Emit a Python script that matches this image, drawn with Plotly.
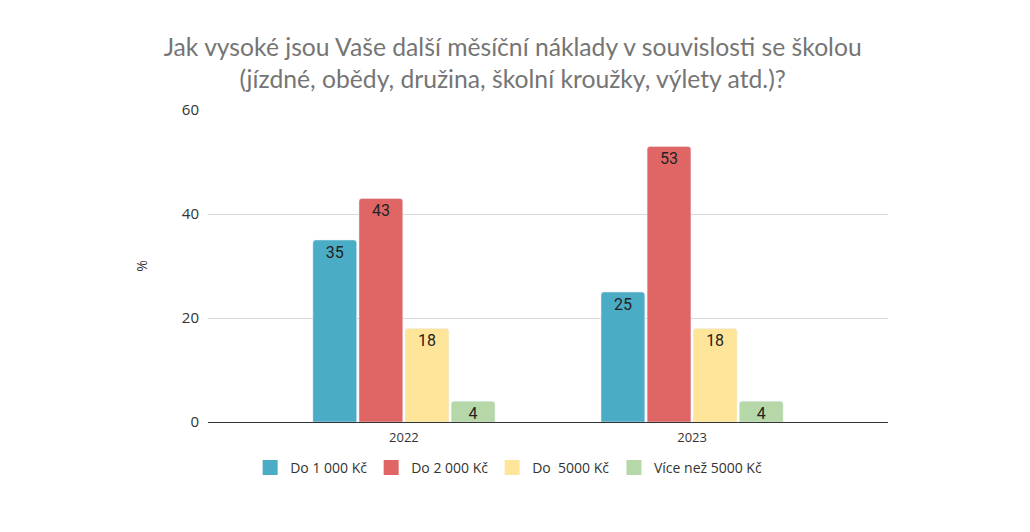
import plotly.graph_objects as go

years = ["2022", "2023"]
series_names = ["Do 1 000 Kč", "Do 2 000 Kč", "Do  5000 Kč", "Více než 5000 Kč"]
do_1000 = [35, 25]
do_2000 = [43, 53]
do_5000 = [18, 18]
nad_5000 = [4, 4]
colors = ["#4BACC6", "#E06666", "#FFE599", "#B6D7A8"]
y_ticks = [0, 20, 40, 60]

fig = go.Figure()
for i, (name, vals, col) in enumerate(zip(series_names, [do_1000, do_2000, do_5000, nad_5000], colors)):
    fig.add_trace(go.Bar(
        x=years, y=vals, name=name, showlegend=False,
        marker=dict(color=col, cornerradius=3),
        text=vals, textposition="inside", insidetextanchor="end",
        textfont=dict(family="Roboto", size=16, color="#222222"),
        textangle=0, constraintext="none",
    ))
    # legend-only entry with a bigger square (last one in its own legend so it isn't clipped)
    fig.add_trace(go.Scatter(
        x=[None], y=[None], mode="markers", name=name,
        marker=dict(symbol="square", size=15, color=col),
        legend="legend2" if i == 3 else "legend",
    ))

leg_font = dict(family="Open Sans", size=14, color="#333333")
fig.update_layout(
    title=dict(
        text="Jak vysoké jsou Vaše další měsíční náklady v souvislosti se školou<br>(jízdné, obědy, družina, školní kroužky, výlety atd.)?",
        x=0.49, xanchor="center", y=0.91, yanchor="middle",
        font=dict(family="Lato", size=24.7, color="#757575"),
    ),
    width=1030, height=532,
    margin=dict(l=200, r=150, t=102, b=118),
    plot_bgcolor="white", paper_bgcolor="white",
    barmode="group", bargap=0.36, bargroupgap=0.05,
    uniformtext=dict(minsize=16, mode="show"),
    showlegend=True,
    legend=dict(orientation="h", x=0.062, xanchor="left", y=-0.147, yanchor="middle",
                font=leg_font, itemsizing="trace", traceorder="normal", entrywidth=76),
    legend2=dict(orientation="h", x=0.597, xanchor="left", y=-0.147, yanchor="middle",
                 font=leg_font, itemsizing="trace"),
    font=dict(family="Open Sans", size=14, color="#333333"),
)
fig.update_xaxes(range=[-0.68, 1.68], showline=True, linecolor="#333333", linewidth=1,
                 ticks="", tickfont=dict(size=13), ticklabelstandoff=3)
fig.update_yaxes(range=[0, 60], tickvals=y_ticks, showgrid=True, gridcolor="#D9D9D9",
                 zeroline=False, title=dict(text="%", font=dict(size=14), standoff=30),
                 tickfont=dict(size=15), ticklabelstandoff=8)

fig.write_html("out.html")
